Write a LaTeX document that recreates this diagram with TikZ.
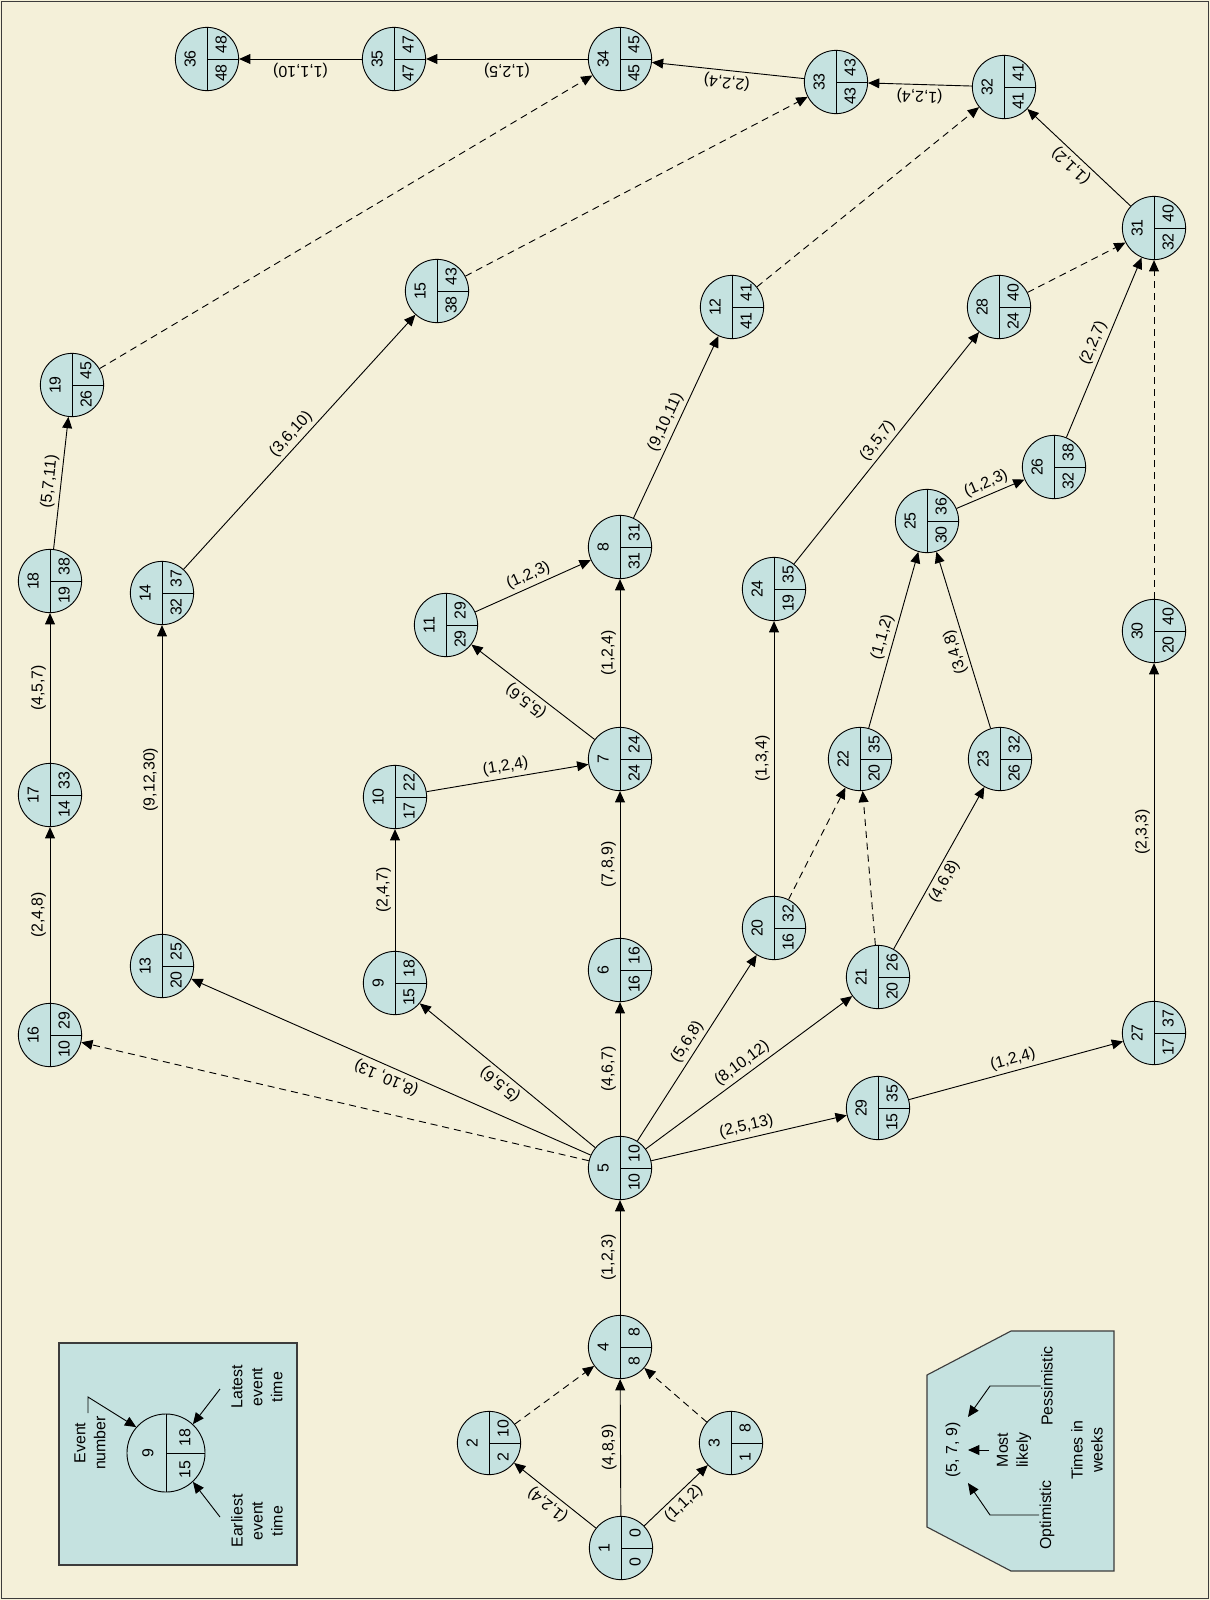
\documentclass[tikz,border=0pt]{standalone}
\usepackage{fontspec}
\setmainfont{Liberation Sans}
\usepackage{tikz}
\usetikzlibrary{arrows.meta}
\definecolor{bgbeige}{HTML}{F4F0D9}
\definecolor{evblue}{HTML}{C5E2E0}
\definecolor{framegray}{HTML}{3C3C3C}
\newcommand{\dfont}{\fontsize{11.3}{14.2}\selectfont}
% event circle: name, position, number, latest, earliest
\newcommand{\evt}[5]{%
  \node[ev] (#1) at (#2) {};
  \draw (#1.north) -- (#1.south) (#1.center) -- (#1.east);
  \node[num] (#1n) at ([xshift=-12pt]#1.center) {#3};
  \node[num] (#1l) at ([xshift=10pt,yshift=10.5pt]#1.center) {#4};
  \node[num] (#1e) at ([xshift=10pt,yshift=-10pt]#1.center) {#5};}

\begin{document}
\begin{tikzpicture}[x=0.025cm,y=-0.025cm,line width=0.65pt,
  ev/.style={circle,draw,fill=evblue,minimum size=45pt,inner sep=0pt},
  num/.style={rotate=90,font=\dfont,inner sep=0pt},
  arr/.style={-{Triangle[length=8pt,width=7pt]}},
  dsh/.style={dash pattern=on 5pt off 3.5pt},
  lab/.style={sloped,allow upside down,font=\dfont,inner sep=2.5pt},
  txt/.style={rotate=90,font=\dfont,align=center,inner sep=0pt},
  legbox/.style={draw=framegray,fill=evblue,line width=0.8pt}]
\useasboundingbox (0,0) rectangle (1210,1600);
\fill[bgbeige] (0,0) rectangle (1210,1600);
\draw[framegray,line width=1.2pt] (1.5,1.5) rectangle (1208.5,1598.5);

% key: event circle
\draw[legbox] (59,1343) rectangle (297,1565);
\node[ev,minimum size=55.5pt] (lg) at (166,1453) {};
\draw (lg.north) -- (lg.south) (lg.center) -- (lg.east);
\node[num] (lgn) at ([xshift=-12.8pt]lg.center) {9};
\node[num] (lgl) at ([xshift=13.5pt,yshift=10.7pt]lg.center) {18};
\node[num] (lge) at ([xshift=13.5pt,yshift=-12pt]lg.center) {15};
\node[txt] (evnum) at (90,1443) {Event\\number};
\node[txt] (late) at (257,1387) {Latest\\event\\time};
\node[txt] (early) at (257,1521) {Earliest\\event\\time};
\coordinate (evnumA) at (88,1413);
\coordinate (evnumB) at (88,1397);
\coordinate (lateA) at (220,1389);
\coordinate (earlyA) at (220,1517);
\draw[arr] (evnumA) -- (evnumB) -- (lg.139);
\draw[arr] (lateA) -- (lg.47);
\draw[arr] (earlyA) -- (lg.-47);

% key: time estimates
\draw[legbox] (927,1375) -- (1011,1331) -- (1114,1331) -- (1114,1571)
  -- (1011,1571) -- (927,1527) -- cycle;
\node[txt] (est) at (953,1450) {(5, 7, 9)};
\node[txt] (likely) at (1014,1450) {Most\\likely};
\node[txt] (pess) at (1047,1386) {Pessimistic};
\node[txt] (opt) at (1047,1515) {Optimistic};
\node[txt] (weeks) at (1087,1450) {Times in\\weeks};
\coordinate (pessB) at (990,1386);
\coordinate (pessT) at (968,1417);
\coordinate (optB) at (990,1515);
\coordinate (optT) at (968,1483);
\coordinate (likelyA) at (989,1450);
\coordinate (likelyT) at (968,1450);
\draw[arr] (pess.north) -- (pessB) -- (pessT);
\draw[arr] (opt.north) -- (optB) -- (optT);
\draw[arr] (likelyA) -- (likelyT);

% events
\evt{e1}{621,1548}{1}{0}{0}
\evt{e2}{489,1443}{2}{10}{2}
\evt{e3}{731,1443}{3}{8}{1}
\evt{e4}{620,1347}{4}{8}{8}
\evt{e5}{620,1168}{5}{10}{10}
\evt{e6}{620,970}{6}{16}{16}
\evt{e7}{620,759}{7}{24}{24}
\evt{e8}{620,547}{8}{31}{31}
\evt{e9}{395,983}{9}{18}{15}
\evt{e10}{395,797}{10}{22}{17}
\evt{e11}{446,625}{11}{29}{29}
\evt{e12}{732,307}{12}{41}{41}
\evt{e13}{162,966}{13}{25}{20}
\evt{e14}{162,593}{14}{37}{32}
\evt{e15}{437,291}{15}{43}{38}
\evt{e16}{50,1035}{16}{29}{10}
\evt{e17}{50,795}{17}{33}{14}
\evt{e18}{50,581}{18}{38}{19}
\evt{e19}{72,385}{19}{45}{26}
\evt{e20}{774,928}{20}{32}{16}
\evt{e21}{878,977}{21}{26}{20}
\evt{e22}{860,759}{22}{35}{20}
\evt{e23}{1000,759}{23}{32}{26}
\evt{e24}{774,589}{24}{35}{19}
\evt{e25}{927,521}{25}{36}{30}
\evt{e26}{1054,467}{26}{38}{32}
\evt{e27}{1154,1033}{27}{37}{17}
\evt{e28}{999,307}{28}{40}{24}
\evt{e29}{878,1108}{29}{35}{15}
\evt{e30}{1154,631}{30}{40}{20}
\evt{e31}{1154,228}{31}{40}{32}
\evt{e32}{1004,87}{32}{41}{41}
\evt{e33}{836,82}{33}{43}{43}
\evt{e34}{620,59}{34}{45}{45}
\evt{e35}{394,59}{35}{47}{47}
\evt{e36}{207,59}{36}{48}{48}

% activities
\draw[arr] (e1) -- node[lab,above] {(1,2,4)} (e2);
\draw[arr] (e1) -- node[lab,above] {(4,8,9)} (e4);
\draw[arr] (e1) -- node[lab,below] {(1,1,2)} (e3);
\draw[arr,dsh] (e2) -- (e4);
\draw[arr,dsh] (e3) -- (e4);
\draw[arr] (e4) -- node[lab,above] {(1,2,3)} (e5);
\draw[arr,dsh] (e5) -- (e16);
\draw[arr] (e5) -- node[lab,above] {(8,10, 13)} (e13);
\draw[arr] (e5) -- node[lab,above] {(5,5,6)} (e9);
\draw[arr] (e5) -- node[lab,above] {(4,6,7)} (e6);
\draw[arr] (e5) -- node[lab,above] {(5,6,8)} (e20);
\draw[arr] (e5) -- node[lab,above] {(8,10,12)} (e21);
\draw[arr] (e5) -- node[lab,above] {(2,5,13)} (e29);
\draw[arr] (e16) -- node[lab,above] {(2,4,8)} (e17);
\draw[arr] (e17) -- node[lab,above] {(4,5,7)} (e18);
\draw[arr] (e18) -- node[lab,above] {(5,7,11)} (e19);
\draw[arr,dsh] (e19) -- (e34);
\draw[arr] (e13) -- node[lab,above] {(9,12,30)} (e14);
\draw[arr] (e14) -- node[lab,above] {(3,6,10)} (e15);
\draw[arr,dsh] (e15) -- (e33);
\draw[arr] (e9) -- node[lab,above] {(2,4,7)} (e10);
\draw[arr] (e10) -- node[lab,above] {(1,2,4)} (e7);
\draw[arr] (e6) -- node[lab,above] {(7,8,9)} (e7);
\draw[arr] (e7) -- node[lab,above] {(5,5,6)} (e11);
\draw[arr] (e7) -- node[lab,above] {(1,2,4)} (e8);
\draw[arr] (e11) -- node[lab,above] {(1,2,3)} (e8);
\draw[arr] (e8) -- node[lab,above] {(9,10,11)} (e12);
\draw[arr,dsh] (e12) -- (e32);
\draw[arr] (e20) -- node[lab,above] {(1,3,4)} (e24);
\draw[arr,dsh] (e20) -- (e22);
\draw[arr,dsh] (e21) -- (e22);
\draw[arr] (e21) -- node[lab,below,pos=0.45] {(4,6,8)} (e23);
\draw[arr] (e22) -- node[lab,above] {(1,1,2)} (e25);
\draw[arr] (e23) -- node[lab,above,pos=0.45] {(3,4,8)} (e25);
\draw[arr] (e24) -- node[lab,above] {(3,5,7)} (e28);
\draw[arr] (e25) -- node[lab,above] {(1,2,3)} (e26);
\draw[arr] (e26) -- node[lab,above] {(2,2,7)} (e31);
\draw[arr,dsh] (e28) -- (e31);
\draw[arr] (e29) -- node[lab,above] {(1,2,4)} (e27);
\draw[arr] (e27) -- node[lab,above] {(2,3,3)} (e30);
\draw[arr,dsh] (e30) -- (e31);
\draw[arr] (e31) -- node[lab,above] {(1,1,2)} (e32);
\draw[arr] (e32) -- node[lab,above] {(1,2,4)} (e33);
\draw[arr] (e33) -- node[lab,above] {(2,2,4)} (e34);
\draw[arr] (e34) -- node[lab,above] {(1,2,5)} (e35);
\draw[arr] (e35) -- node[lab,above] {(1,1,10)} (e36);
\end{tikzpicture}
\end{document}
